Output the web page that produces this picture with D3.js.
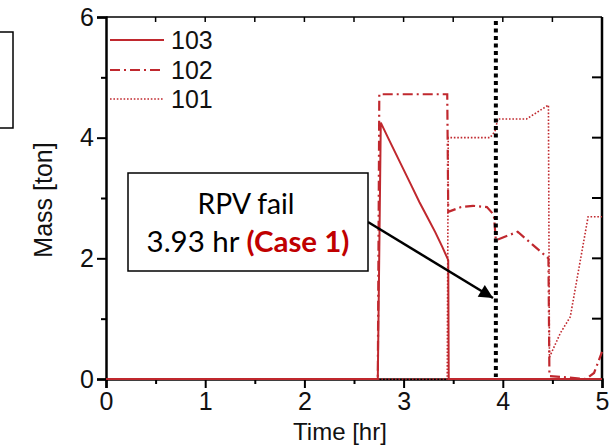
<!DOCTYPE html>
<html>
<head>
<meta charset="utf-8">
<script src="https://cdn.jsdelivr.net/npm/d3@7"></script>
<style>
  html, body { margin: 0; padding: 0; background: #fff; }
  svg { display: block; }
</style>
</head>
<body>
<svg id="chart" width="611" height="447"></svg>
<script>
// ---- data ----
const seriesNames = ["103", "102", "101"];
const t103 = [0, 2.74, 2.77, 2.84, 2.92, 3.00, 3.08, 3.16, 3.24, 3.32, 3.39, 3.45, 3.455, 5.0];
const m103 = [0, 0, 4.25, 4.01, 3.74, 3.47, 3.20, 2.93, 2.68, 2.43, 2.19, 1.97, 0, 0];
const t102 = [0, 2.74, 2.755, 3.44, 3.45, 3.58, 3.70, 3.84, 3.91, 3.93, 4.15, 4.46, 4.47, 4.84, 4.92, 5.0];
const m102 = [0, 0, 4.72, 4.72, 2.77, 2.85, 2.87, 2.85, 2.72, 2.30, 2.44, 2.00, 0.05, 0, 0.10, 0.45];
const t101 = [0, 3.44, 3.45, 3.87, 3.92, 3.95, 4.24, 4.46, 4.47, 4.58, 4.68, 4.86, 5.0];
const m101 = [0, 0, 4.00, 4.00, 4.10, 4.31, 4.31, 4.54, 0.36, 0.76, 1.03, 2.69, 2.69];
const xTicks = [0, 1, 2, 3, 4, 5];
const xMinor = [0.5, 1.5, 2.5, 3.5, 4.5];
const yTicks = [0, 2, 4, 6];
const yMinor = [1, 3, 5];
const rpvTime = 3.93;
const annotLine1 = "RPV fail";
const annotLine2a = "3.93 hr ";
const annotLine2b = "(Case 1)";
const xLabel = "Time [hr]";
const yLabel = "Mass [ton]";

// ---- layout ----
const svg = d3.select("#chart");
const red = "#c0282e";
const x = d3.scaleLinear().domain([0, 5]).range([106, 602]);
const y = d3.scaleLinear().domain([0, 6]).range([379, 17]);
const font = "'Liberation Sans', Arial, sans-serif";

// partial box at far left (cropped element)
svg.append("rect").attr("x", -20).attr("y", 32).attr("width", 33).attr("height", 96)
  .attr("fill", "none").attr("stroke", "#000").attr("stroke-width", 1.5);

// frame: top and right
svg.append("line").attr("x1", x(0)).attr("x2", x(5)).attr("y1", y(6)).attr("y2", y(6))
  .attr("stroke", "#000").attr("stroke-width", 1.5);
svg.append("line").attr("x1", x(5)).attr("x2", x(5)).attr("y1", y(6)).attr("y2", y(0))
  .attr("stroke", "#000").attr("stroke-width", 2.5);
// top inward ticks
svg.append("g").selectAll("line").data(xMinor.concat(xTicks.slice(1, 5))).join("line")
  .attr("x1", d => x(d)).attr("x2", d => x(d)).attr("y1", y(6)).attr("y2", y(6) + 5)
  .attr("stroke", "#000").attr("stroke-width", 1.5);
// right inward ticks
svg.append("g").selectAll("line").data([1, 2, 3, 4, 5]).join("line")
  .attr("x1", x(5)).attr("x2", x(5) - 10).attr("y1", d => y(d)).attr("y2", d => y(d))
  .attr("stroke", "#000").attr("stroke-width", 2);

// axes
const xAxis = d3.axisBottom(x).tickValues(xTicks).tickSize(9).tickPadding(4).tickFormat(d3.format("d"));
svg.append("g").attr("transform", `translate(0,${y(0)})`).call(xAxis);
const xMin = d3.axisBottom(x).tickValues(xMinor).tickSize(5).tickFormat("");
svg.append("g").attr("transform", `translate(0,${y(0)})`).call(xMin).select(".domain").remove();

const yAxis = d3.axisLeft(y).tickValues(yTicks).tickSize(9).tickPadding(3).tickFormat(d3.format("d"));
svg.append("g").attr("transform", `translate(${x(0)},0)`).call(yAxis);
const yMin = d3.axisLeft(y).tickValues(yMinor).tickSize(5).tickFormat("");
svg.append("g").attr("transform", `translate(${x(0)},0)`).call(yMin).select(".domain").remove();

svg.selectAll(".domain").attr("stroke", "#000").attr("stroke-width", 2.5);
svg.selectAll(".tick line").attr("stroke", "#000").attr("stroke-width", 2);
svg.selectAll(".tick text").attr("font-family", font).attr("font-size", 25).attr("fill", "#111");

// axis labels
svg.append("text").attr("x", 340).attr("y", 440).attr("text-anchor", "middle")
  .attr("font-family", font).attr("font-size", 24).attr("fill", "#111").text(xLabel);
svg.append("text").attr("transform", "translate(52,200) rotate(-90)").attr("text-anchor", "middle")
  .attr("font-family", font).attr("font-size", 25).attr("fill", "#111").text(yLabel);

// series
const line = d3.line().x(d => x(d[0])).y(d => y(d[1]));
const series = [
  { name: seriesNames[0], data: d3.zip(t103, m103), dash: null, w: 2 },
  { name: seriesNames[1], data: d3.zip(t102, m102), dash: "10,4,2,4", w: 2.2 },
  { name: seriesNames[2], data: d3.zip(t101, m101), dash: "1.6,1.8", w: 1.6 }
];
series.forEach(s => {
  svg.append("path").attr("d", line(s.data)).attr("fill", "none")
    .attr("stroke", red).attr("stroke-width", s.w)
    .attr("stroke-dasharray", s.dash);
});

// RPV fail vertical dotted line
svg.append("line").attr("x1", x(rpvTime)).attr("x2", x(rpvTime))
  .attr("y1", y(6) + 4).attr("y2", y(0) - 2)
  .attr("stroke", "#000").attr("stroke-width", 4).attr("stroke-dasharray", "4,3.5");

// legend
const legY = [40, 70, 99];
series.forEach((s, i) => {
  svg.append("line").attr("x1", 110).attr("x2", 164).attr("y1", legY[i]).attr("y2", legY[i])
    .attr("stroke", red).attr("stroke-width", s.w).attr("stroke-dasharray", s.dash);
  svg.append("text").attr("x", 171).attr("y", legY[i]).attr("dy", "0.36em")
    .attr("font-family", font).attr("font-size", 25).attr("fill", "#111").text(s.name);
});

// annotation box + arrow
svg.append("defs").append("marker").attr("id", "arrow")
  .attr("viewBox", "0 0 10 10").attr("refX", 10).attr("refY", 5)
  .attr("markerWidth", 6.5).attr("markerHeight", 5.5).attr("markerUnits", "strokeWidth")
  .attr("orient", "auto")
  .append("path").attr("d", "M0,0 L10,5 L0,10 Z").attr("fill", "#000");
svg.append("line").attr("x1", 368).attr("y1", 222).attr("x2", 493).attr("y2", 298)
  .attr("stroke", "#000").attr("stroke-width", 2.5).attr("marker-end", "url(#arrow)");

svg.append("rect").attr("x", 128).attr("y", 173).attr("width", 240).attr("height", 98)
  .attr("fill", "#fff").attr("stroke", "#000").attr("stroke-width", 1.5);
const bfont = "Lato, 'Open Sans', sans-serif";
const t1 = svg.append("text").attr("x", 246).attr("y", 214).attr("text-anchor", "middle")
  .attr("font-family", bfont).attr("font-size", 28).attr("fill", "#000").text(annotLine1);
const t2 = svg.append("text").attr("x", 248).attr("y", 252).attr("text-anchor", "middle")
  .attr("font-family", bfont).attr("font-size", 28).attr("fill", "#000");
t2.append("tspan").text(annotLine2a);
t2.append("tspan").attr("font-weight", "bold").attr("fill", "#c00000").text(annotLine2b);
// fit widths to the reference
const fit = (sel, target) => {
  const w = sel.node().getComputedTextLength();
  if (w > 0) sel.attr("font-size", 28 * target / w);
};
fit(t1, 97);
fit(t2, 203);
</script>
</body>
</html>
